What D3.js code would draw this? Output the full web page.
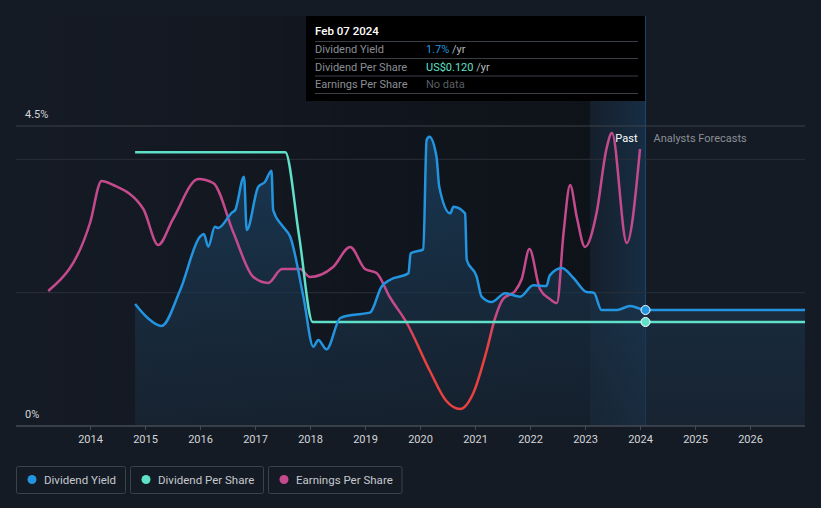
<!DOCTYPE html>
<html>
<head>
<meta charset="utf-8">
<script src="https://cdn.jsdelivr.net/npm/d3@7/dist/d3.min.js"></script>
<style>
  html, body { margin: 0; padding: 0; background: #151b25; }
  svg { display: block; font-family: Roboto, "Noto Sans", sans-serif; }
</style>
</head>
<body>
<svg id="chart" width="821" height="508"></svg>
<script>
// ---- data ----
const yieldDates = [2014.82, 2015.05, 2015.30, 2015.64, 2016.00, 2016.07, 2016.15, 2016.27, 2016.33, 2016.58, 2016.64, 2016.80, 2016.85, 2017.06, 2017.18, 2017.30, 2017.33, 2017.51, 2017.64, 2017.88, 2018.06, 2018.15, 2018.30, 2018.55, 2018.73, 2019.09, 2019.30, 2019.45, 2019.79, 2019.83, 2020.06, 2020.12, 2020.17, 2020.30, 2020.35, 2020.55, 2020.61, 2020.82, 2020.85, 2021.03, 2021.12, 2021.30, 2021.55, 2021.82, 2022.06, 2022.30, 2022.36, 2022.58, 2022.79, 2023.03, 2023.16, 2023.30, 2023.58, 2023.82, 2024.10, 2027.00];
const yieldValues = [1.83, 1.62, 1.50, 2.04, 2.84, 2.88, 2.69, 2.99, 2.97, 3.20, 3.24, 3.74, 2.94, 3.59, 3.66, 3.83, 3.24, 2.99, 2.84, 1.94, 1.19, 1.29, 1.15, 1.62, 1.66, 1.70, 2.09, 2.19, 2.29, 2.59, 2.65, 4.29, 4.34, 4.04, 3.59, 3.19, 3.29, 3.19, 2.49, 2.24, 1.94, 1.86, 1.99, 1.94, 2.11, 2.10, 2.26, 2.37, 2.22, 2.01, 2.00, 1.74, 1.74, 1.80, 1.74, 1.74];

const dpsDates = [2014.82, 2017.55, 2017.80, 2018.05, 2024.10, 2027.00];
const dpsValues = [0.316, 0.316, 0.22, 0.12, 0.12, 0.12];

const epsDates = [2013.24, 2014.00, 2014.21, 2014.42, 2014.97, 2015.24, 2015.51, 2015.97, 2016.24, 2016.61, 2016.97, 2017.24, 2017.49, 2017.82, 2018.00, 2018.42, 2018.73, 2019.00, 2019.21, 2019.45, 2019.76, 2020.18, 2020.48, 2020.73, 2020.97, 2021.21, 2021.36, 2021.51, 2021.73, 2021.85, 2021.99, 2022.18, 2022.36, 2022.49, 2022.61, 2022.73, 2022.85, 2023.00, 2023.21, 2023.39, 2023.49, 2023.76, 2024.00];
const epsValues = [0.17, 0.51, 0.72, 0.70, 0.58, 0.40, 0.53, 0.73, 0.71, 0.46, 0.24, 0.21, 0.28, 0.28, 0.24, 0.29, 0.39, 0.28, 0.26, 0.14, 0.01, -0.23, -0.38, -0.42, -0.34, -0.13, 0.03, 0.13, 0.17, 0.23, 0.38, 0.18, 0.13, 0.11, 0.46, 0.70, 0.54, 0.39, 0.56, 0.88, 0.96, 0.41, 0.88];

const xTicks = [2014, 2015, 2016, 2017, 2018, 2019, 2020, 2021, 2022, 2023, 2024, 2025, 2026];
const yTickLabels = ["0%", "4.5%"];
const yTickValues = [0, 4.5];
const gridValues = [2, 4, 4.5];
const pastStart = 2023.09;
const nowDate = 2024.10;

const legendItems = ["Dividend Yield", "Dividend Per Share", "Earnings Per Share"];
const tooltipTitle = "Feb 07 2024";
const tooltipRows = [
  {label: "Dividend Yield", value: "1.7%", unit: " /yr"},
  {label: "Dividend Per Share", value: "US$0.120", unit: " /yr"},
  {label: "Earnings Per Share", value: "No data", unit: ""}
];

// ---- styles ----
const C = {
  yield: "#2394df", dps: "#5fe0c8", eps: "#c54a8d", epsNeg: "#e8413f",
  text: "#d2d5d9", muted: "#8a8f96", grid: "#2a3039", gridTop: "#3d434b", axis: "#454b53"
};

const svg = d3.select("#chart");
const pL = 16, pR = 805, pT = 126, pB = 426;

const x = d3.scaleLinear().domain([2014, 2026]).range([90, 750]);
const yY = d3.scaleLinear().domain([0, 4.5]).range([pB, pT]);
const yD = d3.scaleLinear().domain([0, 0.32]).range([pB, pB - 0.32 * (104 / 0.12)]);
const yE = d3.scaleLinear().domain([-0.5, 1]).range([425, 125]);

const defs = svg.append("defs");
const gPast = defs.append("linearGradient").attr("id", "pastShade").attr("x1", "0").attr("x2", "1").attr("y1", "0").attr("y2", "0");
gPast.append("stop").attr("offset", "0").attr("stop-color", "#000").attr("stop-opacity", 0);
gPast.append("stop").attr("offset", "1").attr("stop-color", "#000").attr("stop-opacity", 0.32);

const gBand = defs.append("linearGradient").attr("id", "bandShade").attr("x1", "0").attr("x2", "1").attr("y1", "0").attr("y2", "0");
gBand.append("stop").attr("offset", "0").attr("stop-color", "#1f6fb0").attr("stop-opacity", 0.05);
gBand.append("stop").attr("offset", "1").attr("stop-color", "#1f6fb0").attr("stop-opacity", 0.22);

const gArea = defs.append("linearGradient").attr("id", "areaFill").attr("gradientUnits", "userSpaceOnUse")
  .attr("x1", 0).attr("x2", 0).attr("y1", pT).attr("y2", pB);
gArea.append("stop").attr("offset", "0").attr("stop-color", "#1b4466").attr("stop-opacity", 0.75);
gArea.append("stop").attr("offset", "1").attr("stop-color", "#1a2a3b").attr("stop-opacity", 0.55);

const gEps = defs.append("linearGradient").attr("id", "epsStroke").attr("gradientUnits", "userSpaceOnUse")
  .attr("x1", 0).attr("x2", 0).attr("y1", yE(0.08)).attr("y2", yE(-0.1));
gEps.append("stop").attr("offset", "0").attr("stop-color", C.eps);
gEps.append("stop").attr("offset", "1").attr("stop-color", C.epsNeg);

// past shading
svg.append("rect").attr("x", pL).attr("y", 16).attr("width", x(pastStart) - pL).attr("height", pB - 16)
  .attr("fill", "url(#pastShade)");
svg.append("rect").attr("x", x(pastStart)).attr("y", 16).attr("width", x(nowDate) - x(pastStart)).attr("height", pB - 16)
  .attr("fill", "url(#bandShade)");
svg.append("line").attr("x1", x(nowDate)).attr("x2", x(nowDate)).attr("y1", 16).attr("y2", pB)
  .attr("stroke", "#1c4466").attr("stroke-width", 1.2);

// grid
svg.selectAll("line.grid").data(gridValues).join("line")
  .attr("class", "grid")
  .attr("x1", pL).attr("x2", pR)
  .attr("y1", d => yY(d)).attr("y2", d => yY(d))
  .attr("stroke", d => d === 4.5 ? C.gridTop : C.grid).attr("stroke-width", 1);

// y labels
svg.selectAll("text.ylab").data(yTickValues).join("text")
  .attr("class", "ylab")
  .attr("x", 25).attr("y", d => yY(d) - 8)
  .attr("fill", C.text).attr("font-size", 11)
  .text((d, i) => yTickLabels[i]);

// yield area
const yieldData = yieldDates.map((d, i) => ({t: d, v: yieldValues[i]}));
const dpsData = dpsDates.map((d, i) => ({t: d, v: dpsValues[i]}));
const epsData = epsDates.map((d, i) => ({t: d, v: epsValues[i]}));

svg.append("path").datum(yieldData)
  .attr("fill", "url(#areaFill)")
  .attr("d", d3.area().x(d => x(d.t)).y0(pB).y1(d => yY(d.v)).curve(d3.curveMonotoneX));

// axis
const xAxis = d3.axisBottom(x).tickValues(xTicks).tickFormat(d3.format("d")).tickSize(4).tickPadding(5);
const ax = svg.append("g").attr("transform", `translate(0,${pB})`).call(xAxis);
ax.select(".domain").remove();
ax.selectAll("line").attr("stroke", C.axis);
ax.selectAll("text").attr("fill", C.text).attr("font-size", 11).attr("font-family", "Roboto, sans-serif");
svg.append("line").attr("x1", pL).attr("x2", pR).attr("y1", pB).attr("y2", pB)
  .attr("stroke", C.axis).attr("stroke-width", 1.5);

// lines
svg.append("path").datum(epsData)
  .attr("fill", "none").attr("stroke", "url(#epsStroke)").attr("stroke-width", 2.5)
  .attr("d", d3.line().x(d => x(d.t)).y(d => yE(d.v)).curve(d3.curveMonotoneX));

svg.append("path").datum(dpsData)
  .attr("fill", "none").attr("stroke", C.dps).attr("stroke-width", 2.5)
  .attr("d", d3.line().x(d => x(d.t)).y(d => yD(d.v)).curve(d3.curveMonotoneX));

svg.append("path").datum(yieldData)
  .attr("fill", "none").attr("stroke", C.yield).attr("stroke-width", 2.5)
  .attr("d", d3.line().x(d => x(d.t)).y(d => yY(d.v)).curve(d3.curveMonotoneX));

// markers
svg.append("circle").attr("cx", x(nowDate)).attr("cy", yY(1.74)).attr("r", 4.5)
  .attr("fill", C.yield).attr("stroke", "#fff").attr("stroke-width", 1);
svg.append("circle").attr("cx", x(nowDate)).attr("cy", yD(0.12)).attr("r", 4.5)
  .attr("fill", C.dps).attr("stroke", "#fff").attr("stroke-width", 1);

// Past / forecasts labels
svg.append("text").attr("x", x(nowDate) - 8).attr("y", 142).attr("text-anchor", "end")
  .attr("fill", "#ffffff").attr("font-size", 11).text("Past");
svg.append("text").attr("x", x(nowDate) + 8).attr("y", 142)
  .attr("fill", C.muted).attr("font-size", 11).text("Analysts Forecasts");

// tooltip
const tt = svg.append("g");
tt.append("rect").attr("x", 306).attr("y", 16).attr("width", 339).attr("height", 85).attr("fill", "#000");
tt.append("text").attr("x", 315).attr("y", 35).attr("fill", "#fff").attr("font-size", 11.5).attr("font-weight", 500).text(tooltipTitle);
const sepY = [41.5, 58.5, 76, 93.5];
sepY.forEach(yv => tt.append("line").attr("x1", 315).attr("x2", 638).attr("y1", yv).attr("y2", yv)
  .attr("stroke", "#3a3f45").attr("stroke-width", 1));
const valColors = [C.yield, C.dps, "#5a5f66"];
tooltipRows.forEach((r, i) => {
  const by = 53 + i * 17.5;
  tt.append("text").attr("x", 315).attr("y", by).attr("fill", C.muted).attr("font-size", 11).text(r.label);
  const t = tt.append("text").attr("x", 426).attr("y", by).attr("font-size", 11);
  t.append("tspan").attr("fill", valColors[i]).text(r.value);
  if (r.unit) t.append("tspan").attr("fill", "#b5b9be").text(r.unit);
});

// legend
const legendBoxes = [[16.5, 109], [130.5, 133], [268.5, 133.5]];
const legendColors = [C.yield, C.dps, C.eps];
legendItems.forEach((name, i) => {
  const [bx, bw] = legendBoxes[i];
  const g = svg.append("g");
  g.append("rect").attr("x", bx).attr("y", 466.5).attr("width", bw).attr("height", 27).attr("rx", 2)
    .attr("fill", "none").attr("stroke", "#3c424a");
  g.append("circle").attr("cx", bx + 15.5).attr("cy", 479.5).attr("r", 4.5).attr("fill", legendColors[i]);
  g.append("text").attr("x", bx + 27.5).attr("y", 483.5).attr("fill", "#c5c9ce").attr("font-size", 11.5).text(name);
});
</script>
</body>
</html>
